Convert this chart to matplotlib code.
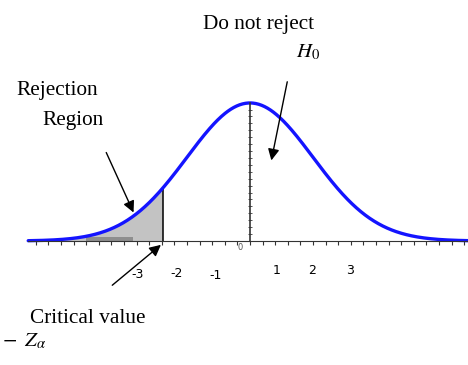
import numpy as np
import matplotlib.pyplot as plt

# standard normal null distribution and the left-tail critical value
mu, sigma = 0.0, 1.0
z_crit = -1.38
z_start, z_end = -3.52, 3.46

# number labels under the axis and where they sit
tick_labels = ['-3', '-2', '-1', '1', '2', '3']
tick_label_x = [-1.79, -1.17, -0.54, 0.43, 0.98, 1.59]
tick_label_y = [-0.097, -0.094, -0.099, -0.085, -0.085, -0.085]


def normal_pdf(z):
    return np.exp(-0.5 * ((z - mu) / sigma) ** 2) / (sigma * np.sqrt(2 * np.pi))


z = np.linspace(z_start, z_end, 600)
pdf = normal_pdf(z)

plt.rcParams['mathtext.fontset'] = 'stix'

fig = plt.figure(figsize=(4.68, 3.65), dpi=100)
ax = fig.add_axes([0, 0, 1, 1])
ax.set_xlim(-3.968, 3.460)
ax.set_ylim(-0.3584, 0.6965)

# shaded rejection region in the left tail
tail = z <= z_crit
ax.fill_between(z[tail], 0, pdf[tail], color='#c3c3c3', lw=0)
ax.fill_between([-2.60, -1.85], 0, 0.011, color='#8e8e8e', lw=0)
ax.vlines(z_crit, 0, normal_pdf(z_crit), color='black', lw=1.1)

ax.plot(z, pdf, color='#1414ff', lw=2.4, solid_capstyle='round')

# axes drawn through the origin
for side in ['top', 'right']:
    ax.spines[side].set_visible(False)
ax.spines['bottom'].set_position(('data', 0))
ax.spines['left'].set_position(('data', 0))
ax.spines['bottom'].set_bounds(z_start, z_end)
ax.spines['left'].set_bounds(0, 0.4)
ax.spines['bottom'].set_color('#333333')
ax.spines['left'].set_color('#333333')
ax.spines['left'].set_linewidth(1.2)
ax.set_xticks(np.arange(-3.4, 3.5, 0.2))
ax.set_yticks(np.arange(0.02, 0.41, 0.02))
ax.tick_params(axis='x', direction='out', length=3, width=0.8, color='#333333', labelbottom=False)
ax.tick_params(axis='y', direction='inout', length=3, width=0.7, color='#555555', labelleft=False)

for lab, x, y in zip(tick_labels, tick_label_x, tick_label_y):
    ax.text(x, y, lab, ha='center', va='center', fontsize=9, family='DejaVu Sans')
ax.text(-0.16, -0.018, '0', ha='center', va='center', fontsize=6, color='#555555')

serif = 'Liberation Serif'
ax.text(-0.75, 0.627, 'Do not reject', ha='left', va='center', fontsize=15.3, family=serif)
ax.text(0.73, 0.545, r'$H_0$', ha='left', va='center', fontsize=15)
ax.text(-3.70, 0.434, 'Rejection', ha='left', va='center', fontsize=15.3, family=serif)
ax.text(-3.30, 0.348, 'Region', ha='left', va='center', fontsize=15.3, family=serif)
ax.text(-3.49, -0.223, 'Critical value', ha='left', va='center', fontsize=15.3, family=serif)
ax.text(-3.94, -0.289, r'$-\;\;Z_\alpha$', ha='left', va='center', fontsize=15)

arrow = dict(arrowstyle='-|>', color='black', lw=1.0, mutation_scale=17)
ax.annotate('', xy=(-1.83, 0.075), xytext=(-2.30, 0.263), arrowprops=arrow)
ax.annotate('', xy=(0.33, 0.225), xytext=(0.60, 0.468), arrowprops=arrow)
ax.annotate('', xy=(-1.38, -0.006), xytext=(-2.22, -0.133), arrowprops=arrow)

fig.savefig('out.png', dpi=100)
